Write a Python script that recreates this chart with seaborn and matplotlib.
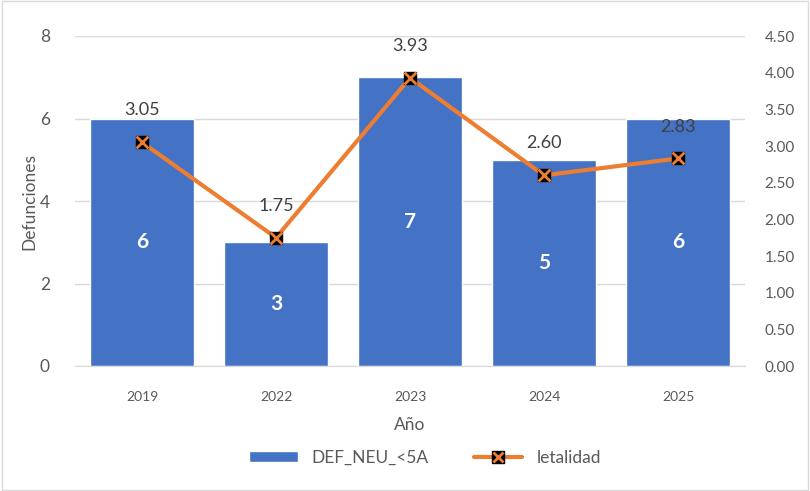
import matplotlib
matplotlib.use('Agg')

import pandas as pd
import matplotlib.pyplot as plt
import seaborn as sns
from matplotlib.legend_handler import HandlerTuple
from matplotlib.patches import Patch
from matplotlib.lines import Line2D

# -------------------------------
# Data
# -------------------------------
years = ["2019", "2022", "2023", "2024", "2025"]
defunciones = [6, 3, 7, 5, 6]
letalidad = [3.05, 1.75, 3.93, 2.60, 2.83]

df = pd.DataFrame({"Año": years, "DEF_NEU_<5A": defunciones, "letalidad": letalidad})

BLUE = "#4472C4"
ORANGE = "#ED7D31"
GREY = "#595959"

sns.set_style("white")
plt.rcParams["font.family"] = ["Lato", "DejaVu Sans"]

fig = plt.figure(figsize=(8.1, 4.91), dpi=100)
ax = fig.add_axes([75 / 810, 1 - 366 / 491, 670 / 810, 330 / 491])

# -------------------------------
# Bars (left axis)
# -------------------------------
sns.barplot(x="Año", y="DEF_NEU_<5A", data=df, color=BLUE, width=0.77,
            saturation=1, ax=ax, zorder=2)
ax.set_ylim(0, 8)
ax.set_yticks([0, 2, 4, 6, 8])
ax.grid(axis="y", color="#D9D9D9", linewidth=1, zorder=0)
ax.set_axisbelow(True)
for s in ax.spines.values():
    s.set_visible(False)
ax.spines["bottom"].set_visible(True)
ax.spines["bottom"].set_color("#D9D9D9")
ax.tick_params(axis="y", labelsize=12.5, colors=GREY, length=0, pad=18)
ax.tick_params(axis="x", labelsize=10, colors=GREY, length=0, pad=18)
ax.set_xlabel("Año", fontsize=12.5, color=GREY, labelpad=10)
ax.set_ylabel("Defunciones", fontsize=12.5, color=GREY, labelpad=2)

for i, v in enumerate(defunciones):
    ax.text(i, v / 2, str(v), ha="center", va="center", color="white",
            fontsize=15, fontweight="bold", zorder=5)

# -------------------------------
# Line (right axis)
# -------------------------------
ax2 = ax.twinx()
x_pos = list(range(len(years)))
sns.lineplot(x=x_pos, y=letalidad, color=ORANGE, linewidth=3, ax=ax2, zorder=3)
ax2.plot(x_pos, letalidad, linestyle="none", marker="s", markersize=9,
         color="black", zorder=4)
ax2.plot(x_pos, letalidad, linestyle="none", marker="x", markersize=8,
         markeredgewidth=2, color=ORANGE, zorder=5)
ax2.set_ylim(0, 4.5)
ax2.set_yticks([i * 0.5 for i in range(10)])
ax2.set_yticklabels([f"{i * 0.5:.2f}" for i in range(10)])
ax2.tick_params(axis="y", labelsize=11, colors=GREY, length=0, pad=14)
for s in ax2.spines.values():
    s.set_visible(False)
ax.set_xlim(-0.5, 4.5)

for i, v in enumerate(letalidad):
    ax2.annotate(f"{v:.2f}", (i, v), xytext=(0, 23), textcoords="offset points",
                 ha="center", va="center", color="#404040", fontsize=13, zorder=6)

# -------------------------------
# Legend
# -------------------------------
bar_h = Patch(facecolor=BLUE)
line_h = (Line2D([], [], color=ORANGE, linewidth=3),
          Line2D([], [], linestyle="none", marker="s", markersize=8, color="black"),
          Line2D([], [], linestyle="none", marker="x", markersize=7,
                 markeredgewidth=2, color=ORANGE))
fig.legend([bar_h, line_h], ["DEF_NEU_<5A", "letalidad"],
           handler_map={tuple: HandlerTuple(ndivide=1, pad=0)},
           loc="center", bbox_to_anchor=(425 / 810, 1 - 458 / 491), ncol=2,
           frameon=False, fontsize=12.5, labelcolor=GREY, handlelength=2.8,
           columnspacing=2.6, handleheight=0.6)

# border around figure
fig.patches.append(plt.Rectangle((0.002, 0.002), 0.996, 0.996, transform=fig.transFigure,
                                 fill=False, edgecolor="#D9D9D9", linewidth=1))

fig.savefig("out.png", dpi=100)
